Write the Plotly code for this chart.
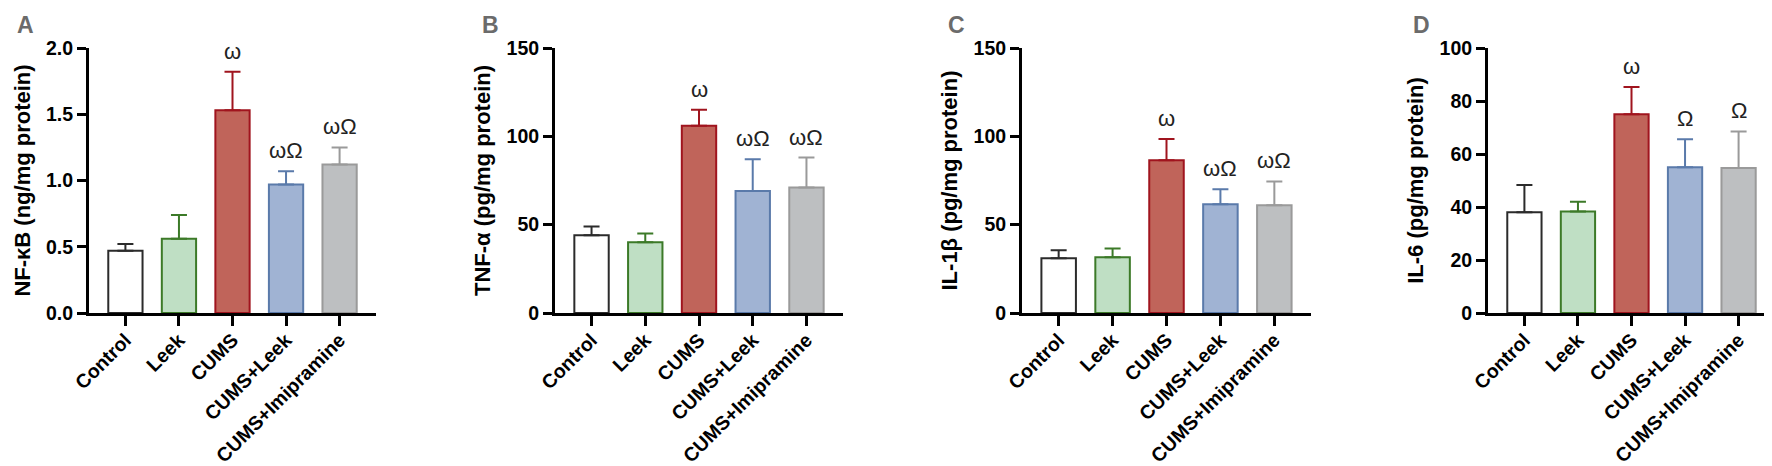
import plotly.graph_objects as go
from plotly.subplots import make_subplots

# groups and values (mean, upper error end)
groups = ['Control', 'Leek', 'CUMS', 'CUMS+Leek', 'CUMS+Imipramine']

nfkb_mean = [0.47, 0.56, 1.53, 0.97, 1.12]
nfkb_top = [0.52, 0.74, 1.82, 1.07, 1.25]
nfkb_sig = ['', '', 'ω', 'ωΩ', 'ωΩ']

tnf_mean = [44, 40, 106, 69, 71]
tnf_top = [49, 45, 115, 87, 88]
tnf_sig = ['', '', 'ω', 'ωΩ', 'ωΩ']

il1b_mean = [31, 31.5, 86.5, 61.5, 61]
il1b_top = [35.5, 36.5, 98.5, 70, 74.5]
il1b_sig = ['', '', 'ω', 'ωΩ', 'ωΩ']

il6_mean = [38, 38.3, 75, 55, 54.7]
il6_top = [48.3, 42, 85.3, 65.6, 68.5]
il6_sig = ['', '', 'ω', 'Ω', 'Ω']

fill_colors = ['#ffffff', '#bfdfc4', '#c0645a', '#a0b3d3', '#bdbfc1']
line_colors = ['#2b2b2b', '#3c7a28', '#a0141e', '#5a7aaa', '#9a9a9a']

panels = [
    ('A', 'NF-κB (ng/mg protein)', nfkb_mean, nfkb_top, nfkb_sig, [0, 2.0], 0.5, '.1f'),
    ('B', 'TNF-α (pg/mg protein)', tnf_mean, tnf_top, tnf_sig, [0, 150], 50, ''),
    ('C', 'IL-1β (pg/mg protein)', il1b_mean, il1b_top, il1b_sig, [0, 150], 50, ''),
    ('D', 'IL-6 (pg/mg protein)', il6_mean, il6_top, il6_sig, [0, 100], 20, ''),
]

# plot area positions in pixels (left, right) for each panel
W, H = 1772, 466
x_px = [(81, 368), (547, 835), (1014, 1303), (1480, 1767)]
letter_px = [7, 472, 938, 1403]
y_dom = [(H - 305) / H, (H - 40) / H]

FONT = 'Liberation Sans, Arial, sans-serif'

fig = make_subplots(rows=1, cols=4)

for i, (letter, ytitle, mean, top, sig, yr, dt, fmt) in enumerate(panels):
    col = i + 1
    fig.add_trace(go.Bar(
        x=groups, y=mean,
        width=0.64,
        marker=dict(color=fill_colors, line=dict(color=line_colors, width=2)),
        showlegend=False,
    ), row=1, col=col)

    # upward error bars, each in its bar's outline colour
    for g, m, t, lc in zip(groups, mean, top, line_colors):
        fig.add_trace(go.Scatter(
            x=[g], y=[m], mode='markers', marker=dict(size=1, opacity=0),
            error_y=dict(type='data', symmetric=False, array=[t - m], arrayminus=[0],
                         color=lc, thickness=2, width=8),
            showlegend=False, hoverinfo='skip',
        ), row=1, col=col)

    ax = '' if i == 0 else str(col)
    fig.update_layout(**{
        f'xaxis{ax}': dict(
            domain=[x_px[i][0] / W, x_px[i][1] / W],
            range=[-0.68, 4.68],
            showline=True, linewidth=3, linecolor='black',
            ticks='outside', ticklen=10, tickwidth=2.5, tickcolor='black',
            tickangle=-45, showgrid=False, zeroline=False,
            ticklabelstandoff=-5,
            tickfont=dict(family=FONT, size=19.5, color='black', weight='bold'),
            automargin=False,
        ),
        f'yaxis{ax}': dict(
            domain=y_dom,
            range=yr, dtick=dt, tickformat=fmt,
            showline=True, linewidth=3, linecolor='black',
            ticks='outside', ticklen=9, tickwidth=2.5, tickcolor='black',
            showgrid=False, zeroline=False,
            tickfont=dict(family=FONT, size=19.5, color='black', weight='bold'),
            title=dict(text=ytitle, standoff=10,
                       font=dict(family=FONT, size=22, color='black', weight='bold')),
            automargin=False,
        ),
    })

    xref = 'x' if i == 0 else f'x{col}'
    yref = 'y' if i == 0 else f'y{col}'
    for g, t, s in zip(groups, top, sig):
        if s:
            fig.add_annotation(x=g, y=t, xref=xref, yref=yref, text=s,
                               showarrow=False, yanchor='bottom', yshift=6,
                               font=dict(family=FONT, size=22, color='#222'))

    fig.add_annotation(x=letter_px[i] / W, y=1 - 2 / H, xref='paper', yref='paper',
                       text=letter, showarrow=False, xanchor='left', yanchor='top',
                       font=dict(family=FONT, size=23, color='#6b6b6b', weight='bold'))

fig.update_layout(
    width=W, height=H,
    margin=dict(l=0, r=0, t=0, b=0),
    plot_bgcolor='white', paper_bgcolor='white',
)

fig.write_html('out.html')
